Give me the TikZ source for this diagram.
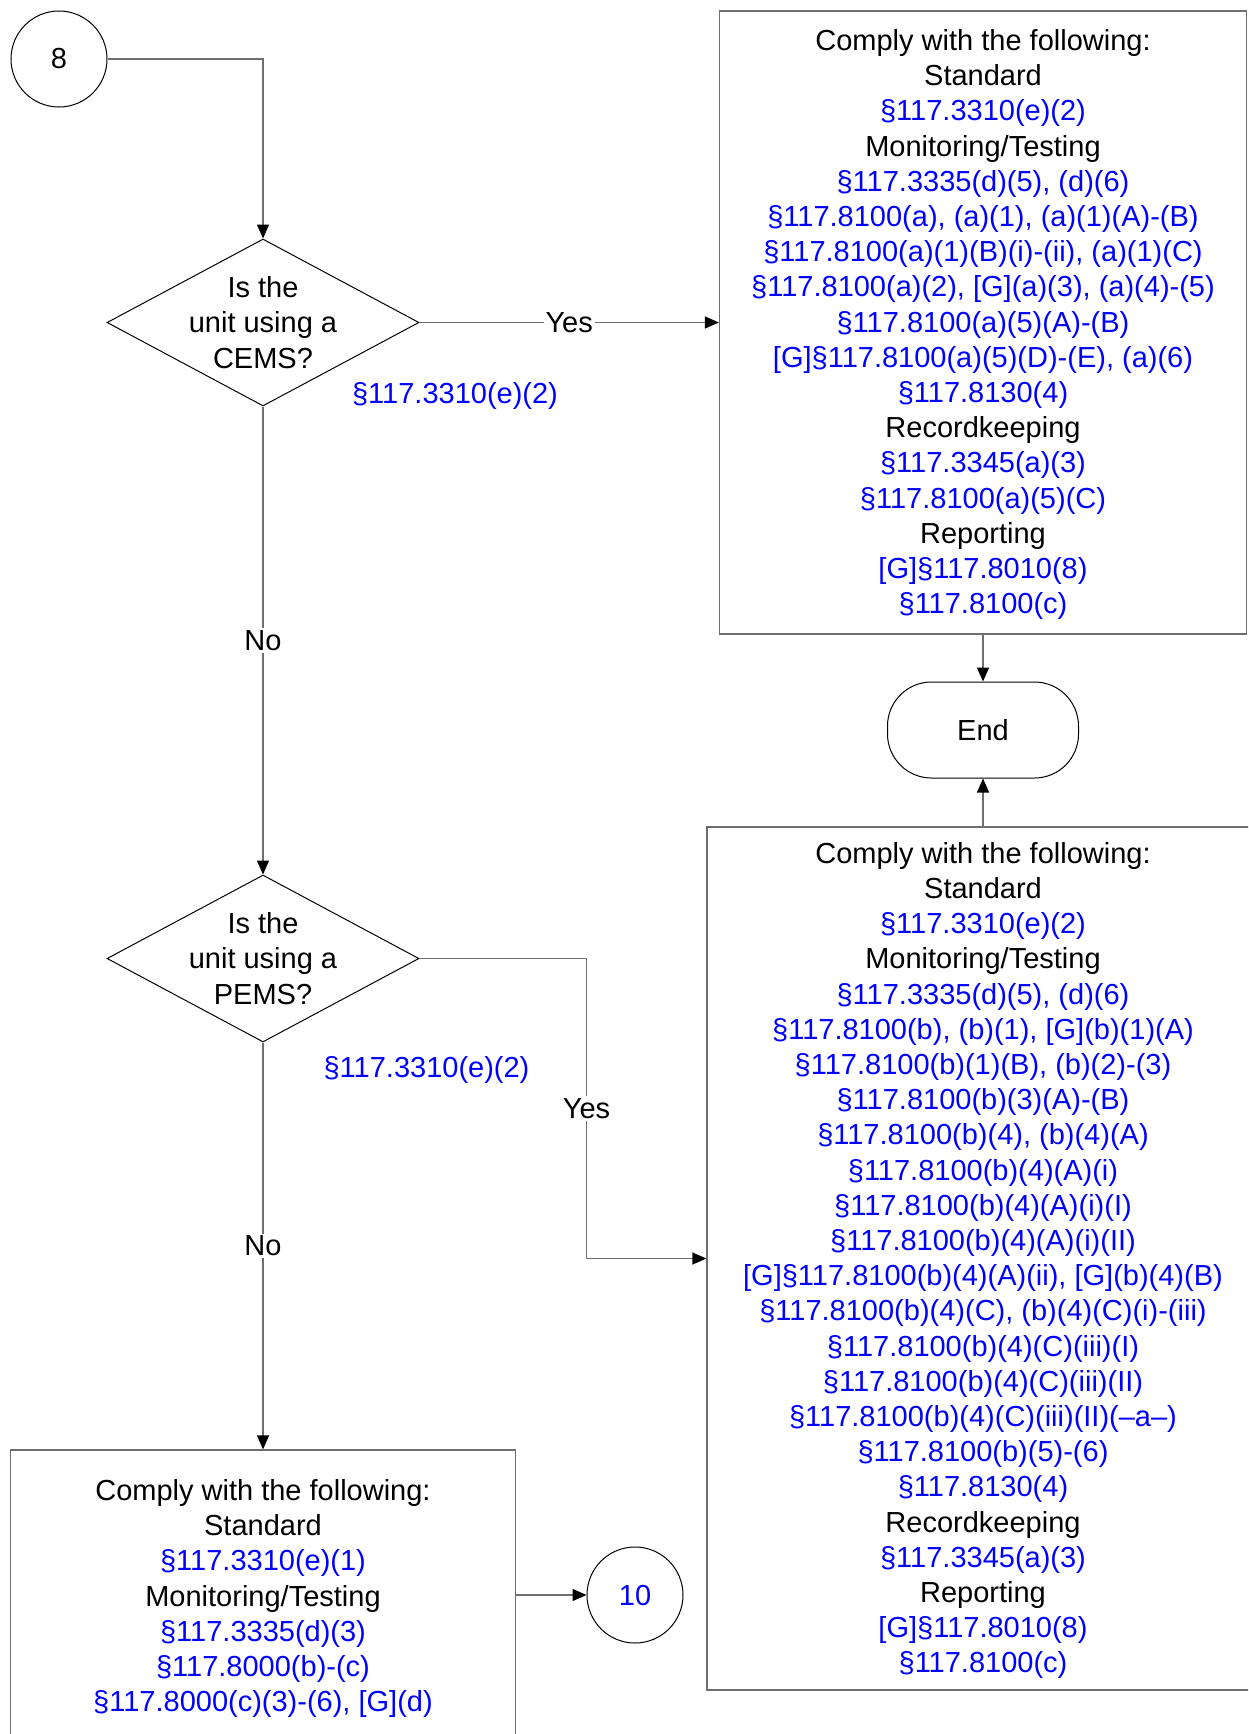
\documentclass[tikz,border=0pt]{standalone}
\usepackage{fontspec}
\setmainfont{Liberation Sans}
\usetikzlibrary{arrows.meta,shapes.geometric}
\definecolor{refblue}{RGB}{0,0,255}
\definecolor{linegray}{RGB}{110,110,110}
\newcommand\bl[1]{\textcolor{refblue}{#1}}
\begin{document}
\begin{tikzpicture}[x=1pt,y=-1pt,font=\fontsize{29}{35.2}\selectfont,
  cbox/.style={draw=linegray,line width=1.3pt,align=center,inner sep=0pt},
  decision/.style={diamond,draw=black,line width=1pt,inner sep=0pt,minimum width=312,minimum height=167},
  conn/.style={draw=linegray,line width=1.3pt,-{Triangle[length=14pt,width=12pt,color=black]}},
  lbl/.style={fill=white,inner sep=2pt},
  circ/.style={circle,draw=black,line width=1pt,minimum size=96pt,inner sep=0pt},
  terminal/.style={draw=black,line width=1pt,rounded corners=44pt,minimum width=191,minimum height=96,inner sep=0pt}]
\useasboundingbox (0,0) rectangle (1248,1734);
\clip (0,0) rectangle (1248,1734);

\node[circ] (c8) at (59,59) {8};
\node[decision,label={[align=center]center:{Is the\\unit using a\\CEMS?}}] (d1) at (263,322.5) {};
\node[cbox,minimum width=527,minimum height=623] (b1) at (983,322.5) {\rule{0pt}{25pt}Comply with the following:\\Standard\\\bl{§117.3310(e)(2)}\\Monitoring/Testing\\\bl{§117.3335(d)(5), (d)(6)}\\\bl{§117.8100(a), (a)(1), (a)(1)(A)-(B)}\\\bl{§117.8100(a)(1)(B)(i)-(ii), (a)(1)(C)}\\\bl{§117.8100(a)(2), [G](a)(3), (a)(4)-(5)}\\\bl{§117.8100(a)(5)(A)-(B)}\\\bl{[G]§117.8100(a)(5)(D)-(E), (a)(6)}\\\bl{§117.8130(4)}\\Recordkeeping\\\bl{§117.3345(a)(3)}\\\bl{§117.8100(a)(5)(C)}\\Reporting\\\bl{[G]§117.8010(8)}\\\bl{§117.8100(c)}};
\node[terminal] (end) at (983,730) {End};
\node[decision,label={[align=center]center:{Is the\\unit using a\\PEMS?}}] (d2) at (263,958.5) {};
\node[cbox,minimum width=552,minimum height=863] (b2) at (983,1258.5) {\rule{0pt}{25pt}Comply with the following:\\Standard\\\bl{§117.3310(e)(2)}\\Monitoring/Testing\\\bl{§117.3335(d)(5), (d)(6)}\\\bl{§117.8100(b), (b)(1), [G](b)(1)(A)}\\\bl{§117.8100(b)(1)(B), (b)(2)-(3)}\\\bl{§117.8100(b)(3)(A)-(B)}\\\bl{§117.8100(b)(4), (b)(4)(A)}\\\bl{§117.8100(b)(4)(A)(i)}\\\bl{§117.8100(b)(4)(A)(i)(I)}\\\bl{§117.8100(b)(4)(A)(i)(II)}\\\bl{[G]§117.8100(b)(4)(A)(ii), [G](b)(4)(B)}\\\bl{§117.8100(b)(4)(C), (b)(4)(C)(i)-(iii)}\\\bl{§117.8100(b)(4)(C)(iii)(I)}\\\bl{§117.8100(b)(4)(C)(iii)(II)}\\\bl{§117.8100(b)(4)(C)(iii)(II)(–a–)}\\\bl{§117.8100(b)(5)-(6)}\\\bl{§117.8130(4)}\\Recordkeeping\\\bl{§117.3345(a)(3)}\\Reporting\\\bl{[G]§117.8010(8)}\\\bl{§117.8100(c)}};
\node[cbox,minimum width=505,minimum height=289] (b3) at (263,1594.5) {\rule{0pt}{29pt}Comply with the following:\\Standard\\\bl{§117.3310(e)(1)}\\Monitoring/Testing\\\bl{§117.3335(d)(3)}\\\bl{§117.8000(b)-(c)}\\\bl{§117.8000(c)(3)-(6), [G](d)}};
\node[circ] (c10) at (635,1595) {\bl{10}};
\node (r1) at (455,395.5) {\bl{§117.3310(e)(2)}};
\node (r2) at (426.5,1070) {\bl{§117.3310(e)(2)}};

\draw[conn] (c8.east) -| (d1.north);
\draw[conn] (d1.east) -- node[lbl] {Yes} (d1.east -| b1.west);
\draw[conn] (d1.south) -- node[lbl] {No} (d2.north);
\draw[conn] (b1.south) -- (end.north);
\draw[conn] (b2.north) -- (end.south);
\draw[conn] (d2.east) -- ++(167,0) |- node[lbl,pos=0.25] {Yes} (b2.west);
\draw[conn] (d2.south) -- node[lbl] {No} (b3.north);
\draw[conn] (b3.east |- c10.west) -- (c10.west);
\end{tikzpicture}
\end{document}
